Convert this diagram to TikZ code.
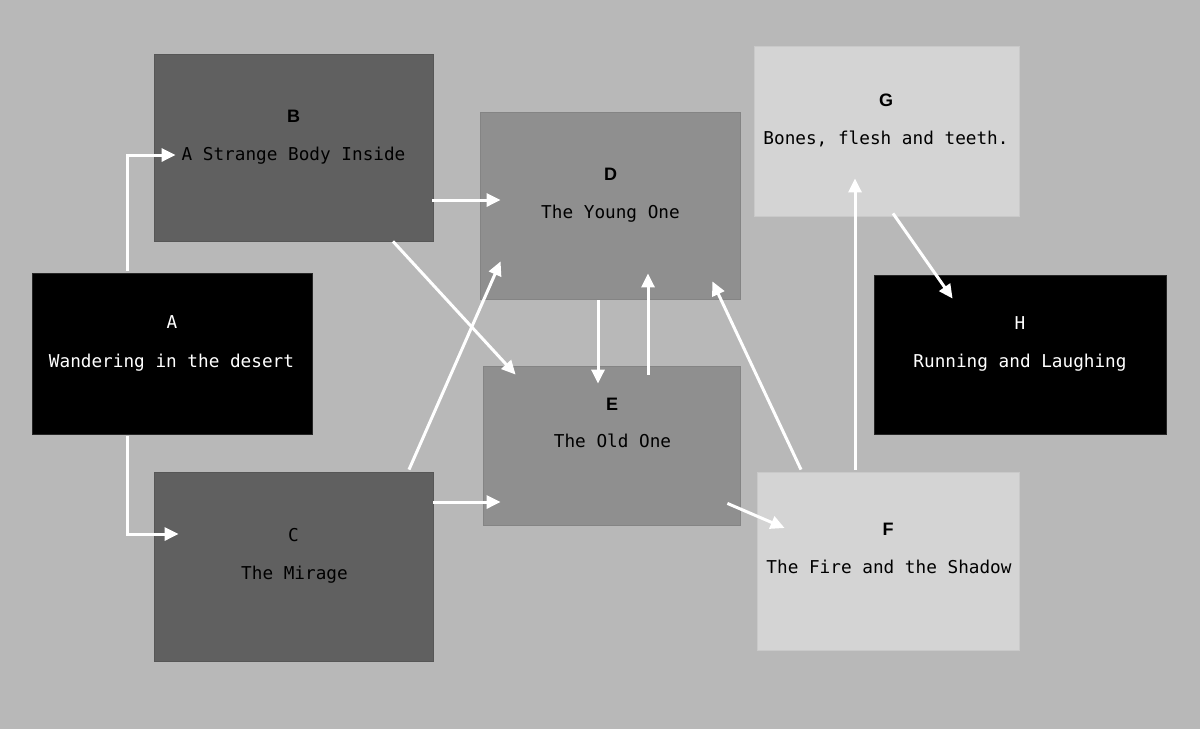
\documentclass[tikz,border=0pt]{standalone}
\usepackage{fontspec}
\usepackage{tikz}
\usetikzlibrary{arrows.meta, positioning, calc}
\newfontfamily\boxmono{DejaVu Sans Mono}
\newfontfamily\labelsans{Liberation Sans}
\definecolor{Desert}{HTML}{B8B8B8}
\definecolor{Ash}{HTML}{606060}
\definecolor{Smoke}{HTML}{8F8F8F}
\definecolor{Bone}{HTML}{D4D4D4}
\tikzset{
    stage/.style={rectangle, inner sep=0pt, line width=0.8pt},
    tag/.style={anchor=base, inner sep=0pt, font=\labelsans\bfseries\fontsize{18}{20}\selectfont},
    monotag/.style={anchor=base, inner sep=0pt, font=\boxmono\fontsize{17.7}{20}\selectfont},
    caption/.style={anchor=base, inner sep=0pt, font=\boxmono\fontsize{17.7}{20}\selectfont},
    flow/.style={draw=white, line width=3pt, -{Triangle[length=14pt,width=13pt]}}
}

\begin{document}
\begin{tikzpicture}[x=1pt, y=1pt]
    % Backdrop
    \fill[Desert] (0,0) rectangle (1200,-729);
    \useasboundingbox (0,0) rectangle (1200,-729);

    % Stage boxes
    \node[stage, fill=black, draw=black!85,
          minimum width=280pt, minimum height=161pt] (A) at (172,-353.5) {};
    \node[stage, fill=Ash, draw=Ash!90!black,
          minimum width=279pt, minimum height=187pt] (B) at (293.5,-147.5) {};
    \node[stage, fill=Ash, draw=Ash!90!black,
          minimum width=279pt, minimum height=189pt] (C) at (293.5,-566.5) {};
    \node[stage, fill=Smoke, draw=Smoke!92!black,
          minimum width=260pt, minimum height=187pt] (D) at (610,-205.5) {};
    \node[stage, fill=Smoke, draw=Smoke!92!black,
          minimum width=257pt, minimum height=159pt] (E) at (611.5,-445.5) {};
    \node[stage, fill=Bone, draw=Bone!95!black,
          minimum width=262pt, minimum height=178pt] (F) at (888,-561) {};
    \node[stage, fill=Bone, draw=Bone!95!black,
          minimum width=265pt, minimum height=170pt] (G) at (886.5,-131) {};
    \node[stage, fill=black, draw=black!85,
          minimum width=292pt, minimum height=159pt] (H) at (1020,-354.5) {};

    % Letters and captions
    \node[monotag, text=white] (Atag) at (172,-328) {A};
    \node[caption, text=white] (Atxt) at (171.5,-367) {Wandering in the desert};
    \node[tag] (Btag) at (293.5,-122) {B};
    \node[caption] (Btxt) at (293.5,-160) {A Strange Body Inside};
    \node[monotag] (Ctag) at (293.5,-541) {C};
    \node[caption] (Ctxt) at (294.5,-579) {The Mirage};
    \node[tag] (Dtag) at (610.5,-180) {D};
    \node[caption] (Dtxt) at (610.5,-218) {The Young One};
    \node[tag] (Etag) at (612,-410) {E};
    \node[caption] (Etxt) at (612.5,-447) {The Old One};
    \node[tag] (Ftag) at (888,-535) {F};
    \node[caption] (Ftxt) at (889,-573) {The Fire and the Shadow};
    \node[tag] (Gtag) at (886,-106) {G};
    \node[caption] (Gtxt) at (886,-144) {Bones, flesh and teeth.};
    \node[monotag, text=white] (Htag) at (1020,-329) {H};
    \node[caption, text=white] (Htxt) at (1020,-367) {Running and Laughing};

    % Connections
    \draw[flow] ([xshift=-45pt,yshift=2pt]A.north) |- ([xshift=22pt,yshift=-7.5pt]B.west);
    \draw[flow] ([xshift=-45pt,yshift=-2pt]A.south) |- ([xshift=25pt,yshift=32.5pt]C.west);
    \draw[flow] ([xshift=-1pt,yshift=-52.5pt]B.east) -- ([xshift=21pt,yshift=5.5pt]D.west);
    \draw[flow] ([xshift=99.5pt]B.south) -- ([xshift=33pt,yshift=-9pt]E.north west);
    \draw[flow] ([xshift=115.5pt,yshift=2pt]C.north) -- ([xshift=21pt,yshift=38pt]D.south west);
    \draw[flow] ([yshift=64.5pt]C.east) -- ([xshift=18pt,yshift=-56.5pt]E.west);
    \draw[flow] ([xshift=-12pt,yshift=-1pt]D.south) -- ([xshift=-13.5pt,yshift=-18pt]E.north);
    \draw[flow] ([xshift=36.5pt,yshift=-9pt]E.north) -- ([xshift=38pt,yshift=26pt]D.south);
    \draw[flow] ([xshift=-13pt,yshift=22pt]E.south east) -- ([xshift=28pt,yshift=33pt]F.west);
    \draw[flow] ([xshift=-87pt,yshift=2pt]F.north) -- ([xshift=-28pt,yshift=18pt]D.south east);
    \draw[flow] ([xshift=-33pt,yshift=2pt]F.north) -- ([xshift=-31.5pt,yshift=38pt]G.south);
    \draw[flow] ([xshift=6.5pt,yshift=3pt]G.south) -- ([xshift=79pt,yshift=-24pt]H.north west);
\end{tikzpicture}
\end{document}
